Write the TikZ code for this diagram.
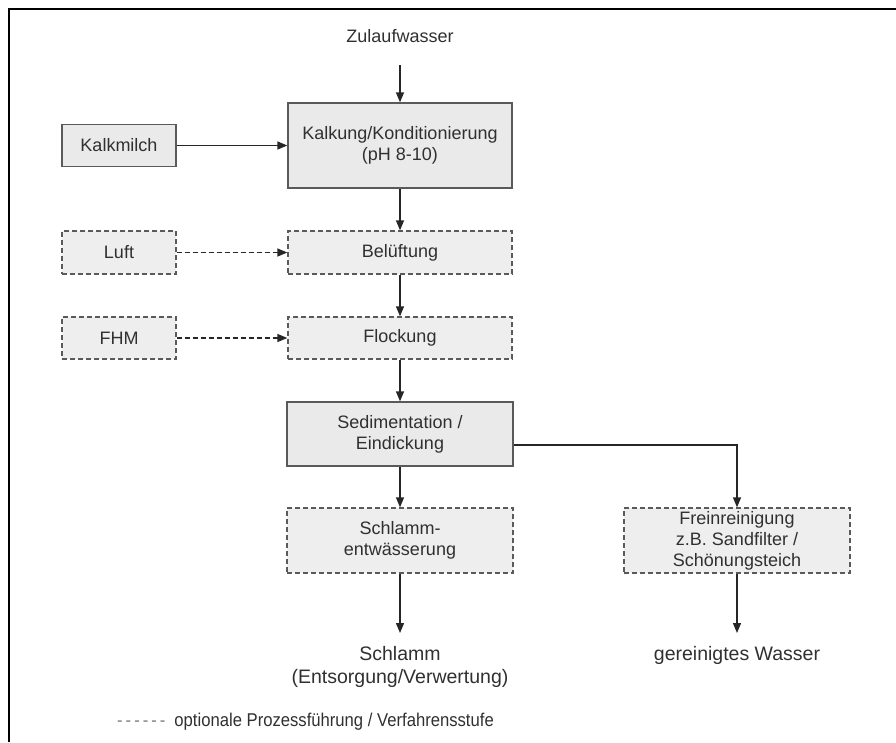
\documentclass[tikz,border=0pt]{standalone}
\usepackage{fontspec}
\setmainfont{Liberation Sans}
\newfontfamily\narrowfont{Liberation Sans}[FakeStretch=0.9]
\usetikzlibrary{arrows.meta}
\definecolor{boxfill}{HTML}{EAEAEA}
\definecolor{boxline}{HTML}{5A5A5A}
\definecolor{txt}{HTML}{303030}
\tikzset{
  solidbox/.style={draw=boxline, fill=boxfill, line width=1.3pt, align=center, inner sep=0pt, text=txt,
    font=\fontsize{18}{21}\selectfont},
  dashbox/.style={solidbox, dash pattern=on 5pt off 3pt, fill=boxfill!80!white},
  plain/.style={align=center, inner sep=0pt, text=txt, font=\fontsize{18}{21}\selectfont},
  flow/.style={draw=black!85, line width=1.3pt, -{Triangle[length=10pt,width=8pt]}},
  optflow/.style={flow, dash pattern=on 5pt off 3pt},
}
\begin{document}
\begin{tikzpicture}[x=1pt,y=-1pt]
\useasboundingbox (0,0) rectangle (896,742);
% frame
\draw[line width=2.5pt, black] (896,9) -- (9,9) -- (9,742);

\node[plain] (zul) at (400,36) {Zulaufwasser};
\node[solidbox, minimum width=224pt, minimum height=85pt] (kalk) at (400,145.5) {Kalkung/Konditionierung\\(pH 8-10)};
\node[solidbox, minimum width=114pt, minimum height=42pt] (milch) at (119,145.5) {Kalkmilch};
\node[dashbox, minimum width=224pt, minimum height=43pt] (bel) at (400,252.5) {Belüftung};
\node[dashbox, minimum width=114pt, minimum height=43pt] (luft) at (119,252.5) {Luft};
\node[dashbox, minimum width=224pt, minimum height=42pt] (floc) at (400,338) {Flockung};
\node[dashbox, minimum width=114pt, minimum height=42pt] (fhm) at (119,338) {FHM};
\node[solidbox, minimum width=226pt, minimum height=64pt] (sed) at (400,434) {Sedimentation /\\Eindickung};
\node[dashbox, minimum width=226pt, minimum height=65pt] (schl) at (400,540.5) {Schlamm-\\entwässerung};
\node[dashbox, minimum width=226pt, minimum height=65pt] (frei) at (737,540.5) {Freinreinigung\\z.B. Sandfilter /\\Schönungsteich};
\node[plain, font=\fontsize{19.5}{23}\selectfont, anchor=north] (schlamm) at (400,646) {Schlamm\\(Entsorgung/Verwertung)};
\node[plain, font=\fontsize{19.5}{23}\selectfont, anchor=north] (wasser) at (737,646) {gereinigtes Wasser};
\node[plain, font=\fontsize{18.5}{20}\selectfont\narrowfont, anchor=west] (legend) at (117,722)
  {{\color{gray}-\hspace{3pt}-\hspace{3pt}-\hspace{3pt}-\hspace{3pt}-\hspace{3pt}-}\hspace{9pt}optionale Prozessführung / Verfahrensstufe};

\draw[flow] ([yshift=-22pt]zul.south) -- (kalk.north);
\draw[flow] (milch) -- (kalk);
\draw[flow] (kalk) -- (bel);
\draw[optflow] (luft) -- (bel);
\draw[flow] (bel) -- (floc);
\draw[optflow] (fhm) -- (floc);
\draw[flow] (floc) -- (sed);
\draw[flow] (sed) -- (schl);
\draw[flow] ([yshift=-11pt]sed.east) -| (frei.north);
\draw[flow] (schl) -- ([yshift=13pt]schlamm.north);
\draw[flow] (frei) -- ([yshift=13pt]wasser.north);
\end{tikzpicture}
\end{document}
